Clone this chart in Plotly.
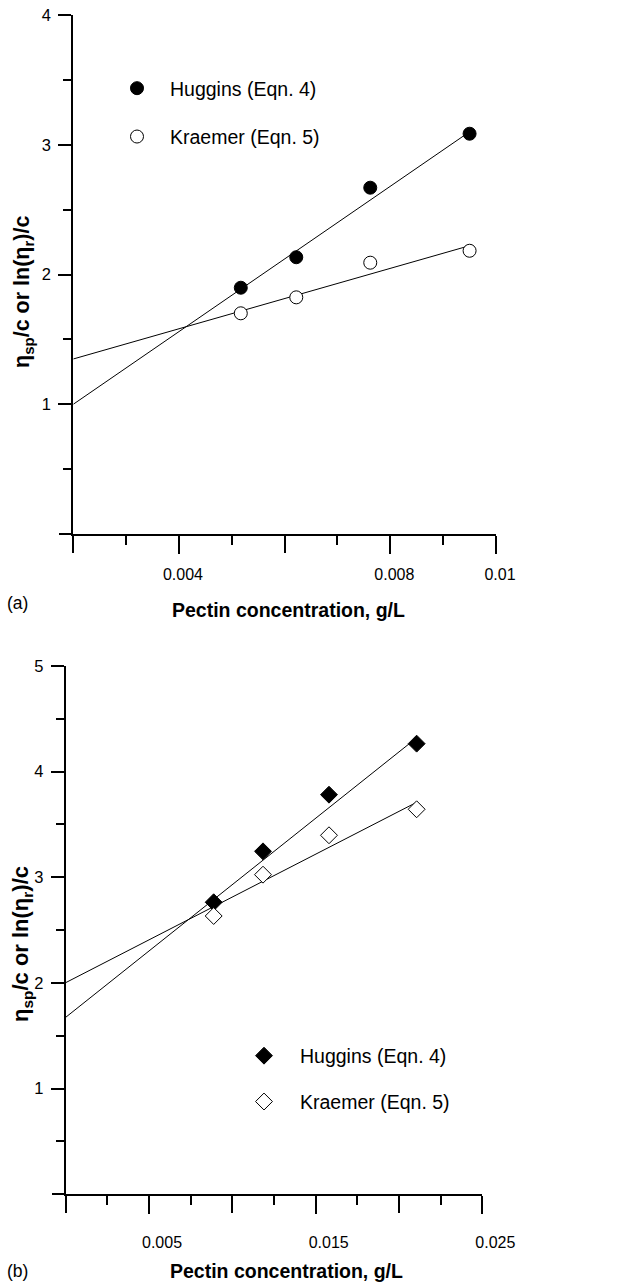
import plotly.graph_objects as go

W, H = 643, 1285
FONT = "Liberation Sans, Arial, sans-serif"

# ---------------- data: panel (a) ----------------
a_conc = [0.00517, 0.00622, 0.00762, 0.0095]
a_huggins = [1.898, 2.133, 2.669, 3.085]
a_kraemer = [1.701, 1.824, 2.091, 2.183]
a_fit_x = [0.002, 0.0095]
a_huggins_fit = [1.0, 3.10]
a_kraemer_fit = [1.349, 2.222]
a_xticks_lab = [0.004, 0.008, 0.010]
a_xlabels = ["0.004", "0.008", "0.01"]
a_xticks_plain = [0.002, 0.006]
a_xminor = [0.003, 0.005, 0.007, 0.009]
a_yticks_lab = [1, 2, 3, 4]
a_ylabels = ["1", "2", "3", "4"]
a_yticks_plain = [0]
a_yminor = [0.5, 1.5, 2.5, 3.5]

# ---------------- data: panel (b) ----------------
b_conc = [0.00888, 0.01184, 0.0158, 0.02106]
b_huggins = [2.764, 3.246, 3.782, 4.265]
b_kraemer = [2.634, 3.025, 3.398, 3.644]
b_fit_x = [0.0, 0.02106]
b_huggins_fit = [1.675, 4.32]
b_kraemer_fit = [2.003, 3.71]
b_xticks_lab = [0.005, 0.015, 0.025]
b_xlabels = ["0.005", "0.015", "0.025"]
b_xticks_plain = [0.0, 0.010, 0.020]
b_xminor = [0.0025, 0.0075, 0.0125, 0.0175, 0.0225]
b_yticks_lab = [1, 2, 3, 4, 5]
b_ylabels = ["1", "2", "3", "4", "5"]
b_yticks_plain = [0]
b_yminor = [0.5, 1.5, 2.5, 3.5, 4.5]

names = ["Huggins (Eqn. 4)", "Kraemer (Eqn. 5)"]

fig = go.Figure()
line_style = dict(color="black", width=1)

# panel (a)
fig.add_trace(go.Scatter(x=a_fit_x, y=a_huggins_fit, mode="lines", line=line_style,
                         showlegend=False, xaxis="x", yaxis="y", hoverinfo="skip"))
fig.add_trace(go.Scatter(x=a_fit_x, y=a_kraemer_fit, mode="lines", line=line_style,
                         showlegend=False, xaxis="x", yaxis="y", hoverinfo="skip"))
fig.add_trace(go.Scatter(x=a_conc, y=a_huggins, mode="markers", name=names[0],
                         marker=dict(symbol="circle", size=13, color="black",
                                     line=dict(color="black", width=1)),
                         xaxis="x", yaxis="y", legend="legend", legendgroup="ah"))
fig.add_trace(go.Scatter(x=a_conc, y=a_kraemer, mode="markers", name=names[1],
                         marker=dict(symbol="circle", size=13, color="white",
                                     line=dict(color="black", width=1)),
                         xaxis="x", yaxis="y", legend="legend", legendgroup="ak"))

# panel (b)
fig.add_trace(go.Scatter(x=b_fit_x, y=b_huggins_fit, mode="lines", line=line_style,
                         showlegend=False, xaxis="x2", yaxis="y2", hoverinfo="skip"))
fig.add_trace(go.Scatter(x=b_fit_x, y=b_kraemer_fit, mode="lines", line=line_style,
                         showlegend=False, xaxis="x2", yaxis="y2", hoverinfo="skip"))
fig.add_trace(go.Scatter(x=b_conc, y=b_huggins, mode="markers", name=names[0],
                         marker=dict(symbol="diamond", size=13, color="black",
                                     line=dict(color="black", width=1)),
                         xaxis="x2", yaxis="y2", legend="legend2", legendgroup="bh"))
fig.add_trace(go.Scatter(x=b_conc, y=b_kraemer, mode="markers", name=names[1],
                         marker=dict(symbol="diamond", size=13, color="white",
                                     line=dict(color="black", width=1)),
                         xaxis="x2", yaxis="y2", legend="legend2", legendgroup="bk"))

# empty traces that attach the tick-only overlay axes to their subplots
for xa, ya in [("x3", "y"), ("x", "y3"), ("x4", "y2"), ("x2", "y4")]:
    fig.add_trace(go.Scatter(x=[], y=[], xaxis=xa, yaxis=ya, showlegend=False,
                             hoverinfo="skip"))

TICKW = 1.5


def xaxis(domain, rng, ticks, labels, minor, anchor, shift, standoff):
    return dict(domain=domain, range=rng, anchor=anchor, automargin=False,
                showline=True, linecolor="black", linewidth=2,
                showgrid=False, zeroline=False,
                ticks="outside", tickvals=ticks, ticktext=labels,
                ticklen=18, tickwidth=TICKW, tickcolor="black",
                ticklabelshift=shift, ticklabelstandoff=standoff,
                minor=dict(tickvals=minor, ticks="outside", ticklen=9,
                           tickwidth=TICKW, tickcolor="black", showgrid=False),
                tickfont=dict(family=FONT, size=16, color="black"))


def yaxis(domain, rng, ticks, labels, minor, anchor):
    return dict(domain=domain, range=rng, anchor=anchor, automargin=False,
                showline=True, linecolor="black", linewidth=2,
                showgrid=False, zeroline=False,
                ticks="outside", tickvals=ticks, ticktext=labels,
                ticklen=13, tickwidth=TICKW, tickcolor="black",
                ticklabelstandoff=4,
                minor=dict(tickvals=minor, ticks="outside", ticklen=8,
                           tickwidth=TICKW, tickcolor="black", showgrid=False),
                tickfont=dict(family=FONT, size=16.5, color="black"))


def plain_ticks(domain, rng, ticks, anchor, overlay, ticklen):
    return dict(domain=domain, range=rng, anchor=anchor, overlaying=overlay,
                automargin=False, showline=False, showgrid=False, zeroline=False,
                ticks="outside", tickvals=ticks, ticklen=ticklen,
                tickwidth=TICKW, tickcolor="black", showticklabels=False)


ax_a = [73.3 / W, 496 / W]
ay_a = [1 - 534 / H, 1 - 15 / H]
ax_b = [65.7 / W, 482.3 / W]
ay_b = [1 - 1194.3 / H, 1 - 666 / H]
xr_a, yr_a = [0.002, 0.010], [0, 4]
xr_b, yr_b = [0, 0.025], [0, 5]

ytitle = "<b>η<sub>sp</sub>/c or ln(η<sub>r</sub>)/c</b>"
xtitle = "<b>Pectin concentration, g/L</b>"


def ann(text, px, py, size, angle=0):
    return dict(text=text, x=px / W, y=1 - py / H, xref="paper", yref="paper",
                textangle=angle, showarrow=False, xanchor="center", yanchor="middle",
                font=dict(family=FONT, size=size, color="black"))


annotations = [
    ann(ytitle, 24, 292, 21.5, -90),
    ann(ytitle, 22, 944, 22, -90),
    ann(xtitle, 288, 610, 19.5),
    ann(xtitle, 286.5, 1271, 19.5),
    ann("(a)", 17.5, 603, 17.5),
    ann("(b)", 17.5, 1271, 17.5),
]

fig.update_layout(
    width=W, height=H,
    margin=dict(l=0, r=0, t=0, b=0, autoexpand=False),
    paper_bgcolor="white", plot_bgcolor="white",
    xaxis=xaxis(ax_a, xr_a, a_xticks_lab, a_xlabels, a_xminor, "y", 4, 7),
    yaxis=yaxis(ay_a, yr_a, a_yticks_lab, a_ylabels, a_yminor, "x"),
    xaxis2=xaxis(ax_b, xr_b, b_xticks_lab, b_xlabels, b_xminor, "y2", 13, 14),
    yaxis2=yaxis(ay_b, yr_b, b_yticks_lab, b_ylabels, b_yminor, "x2"),
    xaxis3=plain_ticks(ax_a, xr_a, a_xticks_plain, "y", "x", 18),
    yaxis3=plain_ticks(ay_a, yr_a, a_yticks_plain, "x", "y", 13),
    xaxis4=plain_ticks(ax_b, xr_b, b_xticks_plain, "y2", "x2", 18),
    yaxis4=plain_ticks(ay_b, yr_b, b_yticks_plain, "x2", "y2", 13),
    legend=dict(x=104 / W, y=1 - 69 / H, xanchor="left", yanchor="top",
                bgcolor="rgba(0,0,0,0)", borderwidth=0, itemwidth=56,
                tracegroupgap=20, traceorder="grouped",
                font=dict(family=FONT, size=19.5, color="black")),
    legend2=dict(x=228 / W, y=1 - 1036.5 / H, xanchor="left", yanchor="top",
                 bgcolor="rgba(0,0,0,0)", borderwidth=0, itemwidth=62,
                 tracegroupgap=17.5, traceorder="grouped",
                 font=dict(family=FONT, size=19.5, color="black")),
    annotations=annotations,
    showlegend=True,
)

fig.write_html("out.html")
